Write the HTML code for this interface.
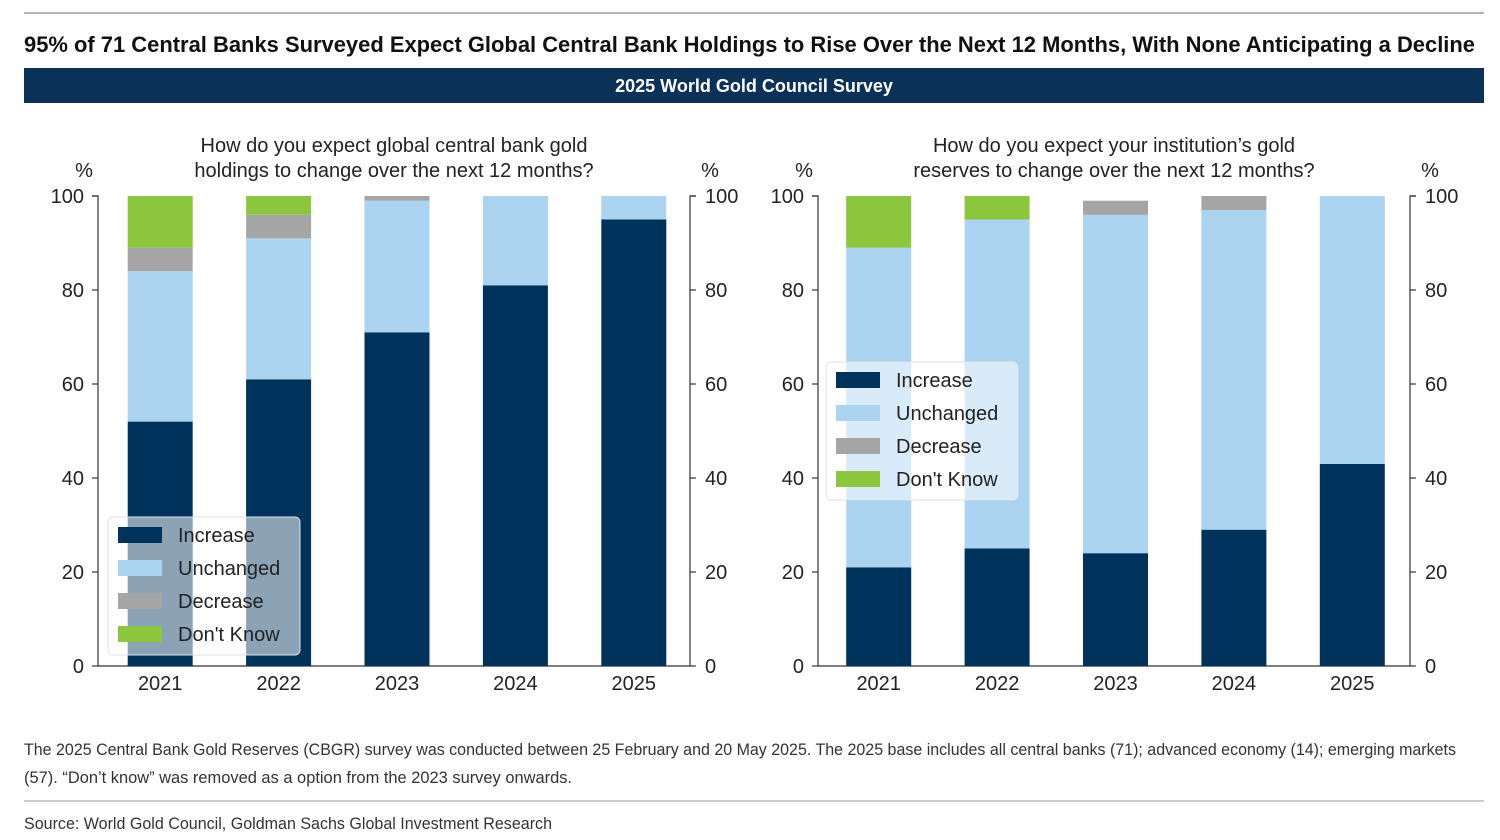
<!DOCTYPE html>
<html><head><meta charset="utf-8"><style>
html,body{margin:0;padding:0;background:#fff;}
svg{display:block;font-family:"Liberation Sans",Arial,sans-serif;}
</style></head><body>
<svg id="root" width="1500" height="840" viewBox="0 0 1500 840">
<line x1="24" y1="13" x2="1484" y2="13" stroke="#999" stroke-width="1.5"/>
<text x="24" y="52" font-size="22" font-weight="bold" fill="#111" textLength="1451" lengthAdjust="spacingAndGlyphs">95% of 71 Central Banks Surveyed Expect Global Central Bank Holdings to Rise Over the Next 12 Months, With None Anticipating a Decline</text>
<rect x="24" y="68" width="1460" height="35" fill="#0b3158"/>
<text x="754" y="92" font-size="18" font-weight="bold" fill="#fff" text-anchor="middle">2025 World Gold Council Survey</text>
<g id="charts"></g>
<text x="24" y="755" font-size="17" fill="#333" textLength="1432" lengthAdjust="spacingAndGlyphs">The 2025 Central Bank Gold Reserves (CBGR) survey was conducted between 25 February and 20 May 2025. The 2025 base includes all central banks (71); advanced economy (14); emerging markets</text>
<text x="24" y="783" font-size="17" fill="#333" textLength="548" lengthAdjust="spacingAndGlyphs">(57). “Don’t know” was removed as a option from the 2023 survey onwards.</text>
<line x1="24" y1="801" x2="1484" y2="801" stroke="#999" stroke-width="1"/>
<text x="24" y="829" font-size="17" fill="#333" textLength="528" lengthAdjust="spacingAndGlyphs">Source: World Gold Council, Goldman Sachs Global Investment Research</text>
</svg>
<script>
const categories = ["2021","2022","2023","2024","2025"];
const seriesNames = ["Increase","Unchanged","Decrease","Don't Know"];
const leftIncrease = [52,61,71,81,95];
const leftUnchanged = [32,30,28,19,5];
const leftDecrease = [5,5,1,0,0];
const leftDontKnow = [11,4,0,0,0];
const rightIncrease = [21,25,24,29,43];
const rightUnchanged = [68,70,72,68,57];
const rightDecrease = [0,0,3,3,0];
const rightDontKnow = [11,5,0,0,0];
const yTicks = [0,20,40,60,80,100];
const colors = ["#00335c","#acd3f0","#a5a5a5","#8cc63f"];
const NS = "http://www.w3.org/2000/svg";
const root = document.getElementById("charts");
function mk(tag, attrs, parent){const e=document.createElementNS(NS,tag);for(const k in attrs)e.setAttribute(k,attrs[k]);(parent||root).appendChild(e);return e;}

function drawChart(id, x0, x1, off, titleLines, series, legend){
  const g = mk("g",{});
  
  
  const yTop=196, yBot=666;
  const y = v => yBot - (v/100)*(yBot-yTop);
  const slot = (x1-x0)/categories.length;
  const bw = 65;
  const cx = i => x0 + off + slot*(i+0.5);
  titleLines.forEach((t,k)=>{
    const tt = mk("text",{x:(x0+x1)/2,y:152+k*25,"font-size":20,fill:"#222","text-anchor":"middle"},g);
    tt.textContent=t;
    
    
  });
  const ax = mk("path",{d:`M${x0-6},${yTop}H${x0}V${yBot}H${x1}V${yTop}H${x1+6}`,stroke:"#333","stroke-width":1.2,fill:"none"},g);
  
  
  yTicks.forEach(v=>{
    const tl = mk("line",{x1:x0-6,x2:x0,y1:y(v),y2:y(v),stroke:"#333","stroke-width":1.2},g);
    
    
    const tr = mk("line",{x1:x1,x2:x1+6,y1:y(v),y2:y(v),stroke:"#333","stroke-width":1.2},g);
    
    
    const a = mk("text",{x:x0-14,y:y(v)+7,"font-size":20,fill:"#222","text-anchor":"end"},g);
    a.textContent=v;
    
    
    const b = mk("text",{x:x1+15,y:y(v)+7,"font-size":20,fill:"#222"},g);
    b.textContent=v;
    
    
  });
  const p1 = mk("text",{x:x0-14,y:177,"font-size":20,fill:"#222","text-anchor":"middle"},g);
  p1.textContent="%";
  
  
  const p2 = mk("text",{x:x1+20,y:177,"font-size":20,fill:"#222","text-anchor":"middle"},g);
  p2.textContent="%";
  
  
  categories.forEach((c,i)=>{
    let acc=0;
    series.forEach((s,si)=>{
      const v=s[i]; if(!v) {return;}
      const r = mk("rect",{x:cx(i)-bw/2,y:y(acc+v),width:bw,height:y(acc)-y(acc+v),fill:colors[si]},g);
      
      
      acc+=v;
    });
    const t = mk("text",{x:cx(i),y:690,"font-size":20,fill:"#222","text-anchor":"middle"},g);
    t.textContent=c;
    
    
  });
  const lg = mk("g",{},g);
  
  
  const bx = mk("rect",{x:legend.x,y:legend.y,width:192,height:138,rx:5,fill:"#ffffff","fill-opacity":0.55,stroke:"#dde3ea","stroke-width":1},lg);
  
  
  seriesNames.forEach((n,k)=>{
    const yy = legend.y+18+k*33;
    const sw = mk("rect",{x:legend.x+10,y:yy-8,width:44,height:16,fill:colors[k]},lg);
    
    
    const t = mk("text",{x:legend.x+70,y:yy+7,"font-size":20,fill:"#222"},lg);
    t.textContent=n;
    
    
  });
}
drawChart("left-chart",98,690,3,["How do you expect global central bank gold","holdings to change over the next 12 months?"],
  [leftIncrease,leftUnchanged,leftDecrease,leftDontKnow],{x:108,y:517});
drawChart("right-chart",818,1410,1.5,["How do you expect your institution’s gold","reserves to change over the next 12 months?"],
  [rightIncrease,rightUnchanged,rightDecrease,rightDontKnow],{x:826,y:362});
</script>
</body></html>
